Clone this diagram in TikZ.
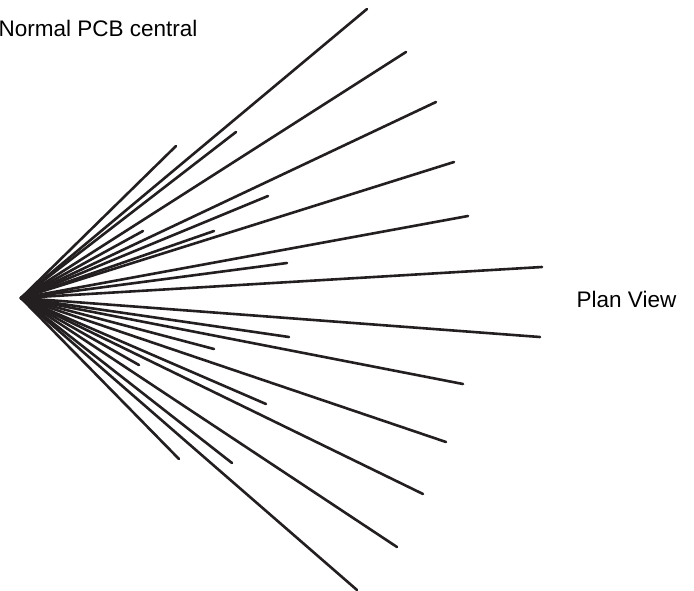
\documentclass[tikz,border=0pt]{standalone}
\usepackage{fontspec}
\setmainfont{Liberation Sans}
\definecolor{inkc}{HTML}{231F20}
\tikzset{ray/.style={draw=inkc,line width=2.6pt,line cap=round},
lbl/.style={font=\fontsize{22.5}{26}\selectfont,inner sep=0pt,text=black}}
\begin{document}
\begin{tikzpicture}[x=1pt,y=-1pt]
\useasboundingbox (0,0) rectangle (694,590);
\coordinate (apex) at (21,298);
\foreach \x/\y in {367/9,406/52,436/102,454/162,468/216,542/267,176/146,236/132,268/196,143/231,214/231,287/263,540/337,463/384,446/442,423/494,397/547,357/590,289/337,214/349,266/404,139/365,232/463,179/459}{
  \coordinate (e) at (\x,\y);
  \draw[ray] (apex) -- (e);
}
\node[lbl,anchor=base west] (a) at (-1.5,36) {Normal PCB central};
\node[lbl,anchor=base west] (b) at (576.5,307) {Plan View};
\end{tikzpicture}
\end{document}
